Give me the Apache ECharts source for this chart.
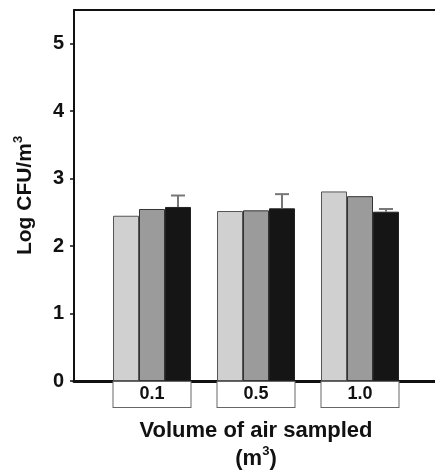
<!DOCTYPE html>
<html>
<head>
<meta charset="utf-8">
<script src="https://cdn.jsdelivr.net/npm/echarts@6/dist/echarts.min.js"></script>
<style>
html,body{margin:0;padding:0;background:#fff;}
#chart{width:435px;height:472px;}
</style>
</head>
<body>
<div id="chart"></div>
<script>
// ---- data ----
const categories = ['0.1', '0.5', '1.0'];
const seriesLight = [2.45, 2.52, 2.81];
const seriesMid = [2.55, 2.53, 2.74];
const seriesDark = [2.58, 2.56, 2.51];
const errDark = [0.17, 0.21, 0.04];
const yTicks = [0, 1, 2, 3, 4, 5];
const yMax = 5.5;

// ---- styles ----
const FONT = 'Liberation Sans, Arial, sans-serif';
const BAR_W = 26;

const chart = echarts.init(document.getElementById('chart'), null, {renderer: 'canvas'});

const errData = categories.map((c, i) => [i, seriesDark[i], errDark[i]]);

const option = {
  animation: false,
  backgroundColor: '#fff',
  textStyle: {fontFamily: FONT},
  grid: [
    {left: 74, right: -20, top: 10, bottom: 91, outerBoundsMode: 'none', containLabel: false},
    {left: 100, right: 23, top: 10, bottom: 91, outerBoundsMode: 'none', containLabel: false}
  ],
  xAxis: [
    {gridIndex: 0, type: 'value', min: 0, max: 1, position: 'bottom',
     axisLine: {show: true, lineStyle: {color: '#111', width: 3}},
     axisTick: {show: false}, axisLabel: {show: false}, splitLine: {show: false}},
    {gridIndex: 0, type: 'value', min: 0, max: 1, position: 'top',
     axisLine: {show: true, lineStyle: {color: '#111', width: 2}},
     axisTick: {show: false}, axisLabel: {show: false}, splitLine: {show: false}},
    {gridIndex: 1, type: 'category', data: categories, position: 'bottom',
     axisLine: {show: false}, axisTick: {show: false}, splitLine: {show: false},
     axisLabel: {
       margin: 1, fontSize: 18, fontWeight: 'bold', color: '#111', fontFamily: FONT,
       backgroundColor: '#fff', borderColor: '#666', borderWidth: 1,
       width: 77, lineHeight: 25, align: 'center'
     },
     name: 'Volume of air sampled\n(m{sup|3})',
     nameLocation: 'middle', nameGap: 36,
     nameTextStyle: {
       fontSize: 22, fontWeight: 'bold', color: '#111', fontFamily: FONT, lineHeight: 28,
       rich: {sup: {fontSize: 13, fontWeight: 'bold', color: '#111', fontFamily: FONT, verticalAlign: 'top', lineHeight: 14}}
     }}
  ],
  yAxis: [
    {gridIndex: 0, type: 'value', min: 0, max: yMax,
     axisLine: {show: true, lineStyle: {color: '#111', width: 2}},
     axisTick: {show: true, length: 4, customValues: yTicks, lineStyle: {color: '#111', width: 1.5}},
     axisLabel: {customValues: yTicks, margin: 10, fontSize: 20, fontWeight: 'bold', color: '#111', fontFamily: FONT},
     splitLine: {show: false},
     name: 'Log CFU/m{sup|3}',
     nameLocation: 'middle', nameGap: 36, nameRotate: 90,
     nameTextStyle: {
       fontSize: 21, fontWeight: 'bold', color: '#111', fontFamily: FONT, lineHeight: 26,
       rich: {sup: {fontSize: 13, fontWeight: 'bold', color: '#111', fontFamily: FONT, verticalAlign: 'top', lineHeight: 14}}
     }},
    {gridIndex: 1, type: 'value', min: 0, max: yMax, show: false, splitLine: {show: false}}
  ],
  series: [
    {type: 'bar', xAxisIndex: 2, yAxisIndex: 1, data: seriesLight, barWidth: BAR_W, barGap: '0%',
     itemStyle: {color: '#d0d0d0', borderColor: '#555', borderWidth: 1}},
    {type: 'bar', xAxisIndex: 2, yAxisIndex: 1, data: seriesMid, barWidth: BAR_W, barGap: '0%',
     itemStyle: {color: '#9b9b9b', borderColor: '#333', borderWidth: 1}},
    {type: 'bar', xAxisIndex: 2, yAxisIndex: 1, data: seriesDark, barWidth: BAR_W, barGap: '0%',
     itemStyle: {color: '#151515', borderColor: '#222', borderWidth: 1}},
    {type: 'custom', xAxisIndex: 2, yAxisIndex: 1, data: errData, z: 5,
     renderItem: function (params, api) {
       const i = api.value(0);
       const base = api.coord([i, api.value(1)]);
       const top = api.coord([i, api.value(1) + api.value(2)]);
       const x = base[0] + BAR_W;
       const capHalf = 7;
       const style = {stroke: '#777', lineWidth: 2};
       return {type: 'group', children: [
         {type: 'line', shape: {x1: x, y1: base[1], x2: x, y2: top[1]}, style: style},
         {type: 'line', shape: {x1: x - capHalf, y1: top[1], x2: x + capHalf, y2: top[1]}, style: style}
       ]};
     }}
  ]
};
chart.setOption(option);
</script>
</body>
</html>
